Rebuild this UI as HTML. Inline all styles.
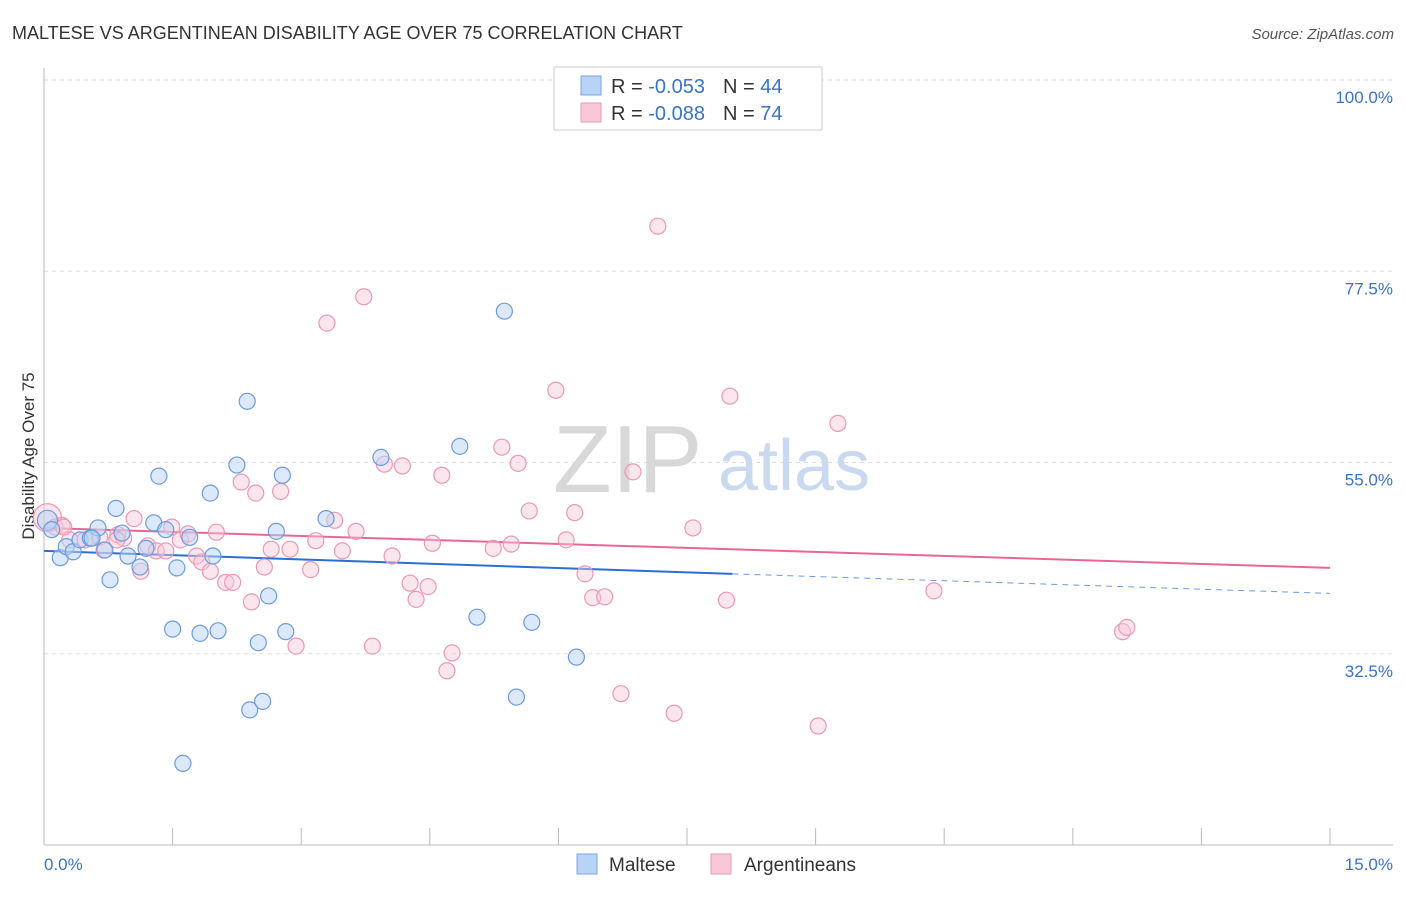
<!DOCTYPE html>
<html><head><meta charset="utf-8"><style>
body{margin:0;background:#fff;font-family:"Liberation Sans",sans-serif;}
svg text{font-family:"Liberation Sans",sans-serif;}
</style></head><body>
<svg id="chart" width="1406" height="892" viewBox="0 0 1406 892" xmlns="http://www.w3.org/2000/svg">
<text x="12" y="39" font-size="18" fill="#333">MALTESE VS ARGENTINEAN DISABILITY AGE OVER 75 CORRELATION CHART</text>
<text x="1394" y="39" font-size="15" fill="#555" text-anchor="end" font-style="italic">Source: ZipAtlas.com</text>
<g id="grid"></g>
<text x="553" y="492" font-size="96" fill="#d8d8d8" font-family="Liberation Serif" >ZIP</text>
<text x="718" y="490" font-size="72" fill="#c9d9ef">atlas</text>
<line x1="44" y1="68" x2="44" y2="845" stroke="#bbb"/>
<line x1="44" y1="845" x2="1393" y2="845" stroke="#bbb"/>
<g id="ticks"></g>
<text transform="translate(34,456) rotate(-90)" font-size="17" fill="#333" text-anchor="middle">Disability Age Over 75</text>
<text x="44" y="870" font-size="17" fill="#3b73c8">0.0%</text>
<text x="1393" y="870" font-size="17" fill="#3b73c8" text-anchor="end">15.0%</text>
<g id="trends"></g>
<g id="points"></g>
<g>
<rect x="554" y="67" width="268" height="63" fill="#fff" stroke="#ccc"/>
<rect x="581" y="76" width="20" height="19" fill="#b8d3f5" stroke="#7aa6e0"/>
<rect x="581" y="103" width="20" height="19" fill="#f9c8d8" stroke="#eb98b5"/>
<text x="611" y="93" font-size="20" fill="#333">R = <tspan fill="#3b73c8">-0.053</tspan><tspan dx="18">N = </tspan><tspan fill="#3b73c8">44</tspan></text>
<text x="611" y="120" font-size="20" fill="#333">R = <tspan fill="#3b73c8">-0.088</tspan><tspan dx="18">N = </tspan><tspan fill="#3b73c8"> 74</tspan></text>
</g>
<g>
<rect x="577" y="854" width="20" height="20" fill="#b8d3f5" stroke="#7aa6e0"/>
<text x="609" y="871" font-size="19" fill="#333">Maltese</text>
<rect x="711" y="854" width="20" height="20" fill="#f9c8d8" stroke="#eb98b5"/>
<text x="744" y="871" font-size="19" fill="#333">Argentineans</text>
</g>
</svg>
<script>
const yTicks=[100,77.5,55,32.5];
const yTickLabels=["100.0%","77.5%","55.0%","32.5%"];
const xTicks=[0,1.5,3,4.5,6,7.5,9,10.5,12,13.5,15];
const malteseX=[0.04,0.09,0.19,0.26,0.34,0.42,0.54,0.63,0.71,0.77,0.84,0.91,0.98,1.12,1.19,1.28,1.34,1.42,1.50,1.55,1.70,1.82,1.94,1.97,2.03,2.25,2.37,2.40,2.50,2.55,2.62,2.71,2.78,2.82,3.29,3.93,4.85,5.05,5.37,5.51,5.69,6.21,1.62,0.56];
const malteseY=[48.2,47.1,43.8,45.1,44.5,45.9,46.1,47.3,44.7,41.2,49.6,46.7,44.0,42.7,44.9,47.9,53.4,47.1,35.4,42.6,46.2,34.9,51.4,44.0,35.2,54.7,62.2,25.9,33.8,26.9,39.3,46.9,53.5,35.1,48.4,55.6,56.9,36.8,72.8,27.4,36.2,32.1,19.6,46.1];
const argX=[0.04,0.13,0.21,0.30,0.48,0.65,0.70,0.86,0.93,1.05,1.13,1.21,1.31,1.42,1.49,1.59,1.68,1.78,1.84,1.94,2.01,2.12,2.20,2.30,2.42,2.47,2.57,2.65,2.76,2.87,2.94,3.11,3.17,3.30,3.39,3.48,3.64,3.73,3.83,3.97,4.06,4.18,4.27,4.34,4.48,4.53,4.64,4.70,4.76,5.24,5.34,5.45,5.53,5.66,5.97,6.09,6.19,6.31,6.40,6.54,6.73,6.87,7.16,7.35,7.57,7.96,8.00,9.03,9.26,10.38,12.58,12.63,0.23,0.85];
const argY=[48.5,47.4,47.6,45.9,45.9,46.2,44.7,46.5,46.1,48.4,42.2,45.2,44.6,44.6,47.4,45.9,46.6,44.0,43.3,42.2,46.8,40.9,40.9,52.7,38.6,51.4,42.7,44.8,51.6,44.8,33.4,42.4,45.8,71.4,48.2,44.6,46.9,74.5,33.4,54.8,44.0,54.6,40.8,38.9,40.4,45.5,53.5,30.5,32.6,44.9,56.8,45.4,54.9,49.3,63.5,45.9,49.1,41.9,39.1,39.2,27.8,53.9,82.8,25.5,47.3,38.8,62.8,24.0,59.6,39.9,35.1,35.6,47.4,45.9];
const trendBlue={x0:0,y0:44.6,x1:8.03,y1:41.9,x2:15,y2:39.6};
const trendPink={x0:0,y0:47.3,x1:15,y1:42.6};
const X=v=>44+v/15*1286, Y=v=>80+(100-v)*8.5;
const NS="http://www.w3.org/2000/svg";
function mk(p,tag,at){const e=document.createElementNS(NS,tag);for(const k in at)e.setAttribute(k,at[k]);document.getElementById(p).appendChild(e);return e;}
yTicks.forEach((t,i)=>{
 const l=mk('grid','line',{x1:44,x2:1393,y1:Y(t),y2:Y(t),stroke:'#ddd','stroke-dasharray':'4,4'});
 
 
 const tx=mk('grid','text',{x:1393,y:Y(t)+23,'font-size':17,fill:'#3b73c8','text-anchor':'end'});
 tx.textContent=yTickLabels[i];
 
 
});
xTicks.forEach(t=>{
 const l=mk('ticks','line',{x1:X(t),x2:X(t),y1:828,y2:845,stroke:'#bbb'});
 
 
});
let t1=mk('trends','line',{x1:X(trendBlue.x0),y1:Y(trendBlue.y0),x2:X(trendBlue.x1),y2:Y(trendBlue.y1),stroke:'#2b6fd6','stroke-width':2});


let t2=mk('trends','line',{x1:X(trendBlue.x1),y1:Y(trendBlue.y1),x2:X(trendBlue.x2),y2:Y(trendBlue.y2),stroke:'#6d9be0','stroke-width':1,'stroke-dasharray':'6,5'});


let t3=mk('trends','line',{x1:X(trendPink.x0),y1:Y(trendPink.y0),x2:X(trendPink.x1),y2:Y(trendPink.y1),stroke:'#e8679a','stroke-width':2});


argX.forEach((x,i)=>{
 const c=mk('points','circle',{cx:X(x),cy:Y(argY[i]),r:i==0?14:8,fill:'rgba(249,200,216,0.45)',stroke:'#eb98b5','stroke-width':1.2});
 
 
});
malteseX.forEach((x,i)=>{
 const c=mk('points','circle',{cx:X(x),cy:Y(malteseY[i]),r:i==0?10:8,fill:'rgba(184,211,245,0.5)',stroke:'#6d9be0','stroke-width':1.2});
 
 
});
</script>
</body></html>
